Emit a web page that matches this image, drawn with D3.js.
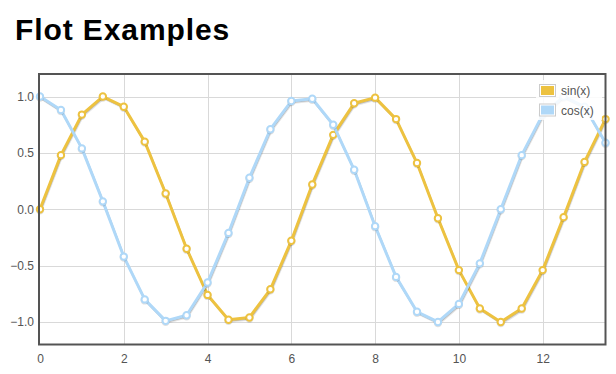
<!DOCTYPE html>
<html>
<head>
<meta charset="utf-8">
<title>Flot Examples</title>
<script src="https://cdn.jsdelivr.net/npm/d3@7"></script>
<style>
  body { margin: 0; background: #fff; font-family: "Liberation Sans", Arial, sans-serif; }
  svg { position: absolute; left: 0; top: 0; }
</style>
</head>
<body>
<script>
// values, one point every half unit
var xs = [0, 0.5, 1, 1.5, 2, 2.5, 3, 3.5, 4, 4.5, 5, 5.5, 6, 6.5,
          7, 7.5, 8, 8.5, 9, 9.5, 10, 10.5, 11, 11.5, 12, 12.5, 13, 13.5];
var sinValues = [0, 0.48, 0.84, 1.00, 0.91, 0.60, 0.14, -0.35, -0.76, -0.98, -0.96, -0.71, -0.28, 0.22,
                 0.66, 0.94, 0.99, 0.80, 0.41, -0.08, -0.54, -0.88, -1.00, -0.88, -0.54, -0.07, 0.42, 0.80];
var cosValues = [1.00, 0.88, 0.54, 0.07, -0.42, -0.80, -0.99, -0.94, -0.65, -0.21, 0.28, 0.71, 0.96, 0.98,
                 0.75, 0.35, -0.15, -0.60, -0.91, -1.00, -0.84, -0.48, 0.00, 0.48, 0.84, 1.00, 0.91, 0.59];
var seriesNames = ["sin(x)", "cos(x)"];
var xTicks = [0, 2, 4, 6, 8, 10, 12];
var yTicks = [-1.0, -0.5, 0.0, 0.5, 1.0];

var width = 616, height = 374;
// note: "top" is taken by window.top, so use plot* names
var plotLeft = 40, plotRight = 605.5, plotTop = 74, plotBottom = 344.5;
var colors = ["#edc240", "#afd8f8"];

var svg = d3.select("body").append("svg")
    .attr("width", width)
    .attr("height", height);

svg.append("text")
    .attr("x", 15).attr("y", 40)
    .attr("fill", "#000")
    .style("font-family", "'Liberation Sans', Arial, sans-serif")
    .style("font-size", "30px")
    .style("font-weight", "bold")
    .style("letter-spacing", "0.9px")
    .text("Flot Examples");

var x = d3.scaleLinear().domain([0, 13.5]).range([plotLeft, plotRight]);
var y = d3.scaleLinear().domain([-1.2, 1.2]).range([plotBottom, plotTop]);

// grid
var grid = svg.append("g").attr("stroke", "#d9d9d9").attr("stroke-width", 1);
grid.selectAll(".vx").data(xTicks.slice(1)).enter().append("line")
    .attr("x1", function(d) { return Math.round(x(d)) + 0.5; })
    .attr("x2", function(d) { return Math.round(x(d)) + 0.5; })
    .attr("y1", plotTop).attr("y2", plotBottom);
grid.selectAll(".hy").data(yTicks).enter().append("line")
    .attr("y1", function(d) { return Math.round(y(d)) + 0.5; })
    .attr("y2", function(d) { return Math.round(y(d)) + 0.5; })
    .attr("x1", plotLeft).attr("x2", plotRight);

// axes (labels only, flot style)
var xAxis = svg.append("g")
    .attr("transform", "translate(0," + (plotBottom + 2) + ")")
    .call(d3.axisBottom(x).tickValues(xTicks).tickSize(0).tickPadding(8).tickFormat(d3.format("d")));
var yAxis = svg.append("g")
    .attr("transform", "translate(" + (plotLeft - 2) + ",0)")
    .call(d3.axisLeft(y).tickValues(yTicks).tickSize(0).tickPadding(4).tickFormat(d3.format(".1f")));
[xAxis, yAxis].forEach(function(a) {
    a.select(".domain").remove();
    a.selectAll("text")
        .attr("fill", "#545454")
        .style("font-family", "'Liberation Sans', Arial, sans-serif")
        .style("font-size", "12px");
});

svg.append("clipPath").attr("id", "plotclip")
    .append("rect").attr("x", plotLeft - 6).attr("y", plotTop - 6)
    .attr("width", plotRight - plotLeft + 12).attr("height", plotBottom - plotTop + 12);

var plot = svg.append("g").attr("clip-path", "url(#plotclip)");

var line = d3.line()
    .x(function(d) { return x(d[0]); })
    .y(function(d) { return y(d[1]); });

var series = [sinValues, cosValues].map(function(vals) {
    return xs.map(function(v, i) { return [v, vals[i]]; });
});

series.forEach(function(data, k) {
    // shadow
    [[2, 0.1], [1, 0.2]].forEach(function(s) {
        plot.append("path").datum(data)
            .attr("transform", "translate(" + s[0] * 0.5 + "," + s[0] + ")")
            .attr("d", line)
            .attr("fill", "none")
            .attr("stroke", "#000")
            .attr("stroke-opacity", s[1])
            .attr("stroke-width", 2)
            .attr("stroke-linejoin", "round");
    });
    plot.append("path").datum(data)
        .attr("d", line)
        .attr("fill", "none")
        .attr("stroke", colors[k])
        .attr("stroke-width", 3)
        .attr("stroke-linejoin", "round");
    plot.selectAll(".pt" + k).data(data).enter().append("circle")
        .attr("cx", function(d) { return x(d[0]); })
        .attr("cy", function(d) { return y(d[1]) + 1; })
        .attr("r", 3.2)
        .attr("fill", "none")
        .attr("stroke", "#000")
        .attr("stroke-opacity", 0.12)
        .attr("stroke-width", 2);
    plot.selectAll(".p" + k).data(data).enter().append("circle")
        .attr("cx", function(d) { return x(d[0]); })
        .attr("cy", function(d) { return y(d[1]); })
        .attr("r", 3.2)
        .attr("fill", "#fff")
        .attr("stroke", colors[k])
        .attr("stroke-width", 2);
});

// border
svg.append("rect")
    .attr("x", plotLeft - 1).attr("y", plotTop)
    .attr("width", plotRight - plotLeft + 1).attr("height", plotBottom - plotTop)
    .attr("fill", "none")
    .attr("stroke", "#545454")
    .attr("stroke-width", 2);

// legend
var legend = svg.append("g");
legend.append("rect")
    .attr("x", 536).attr("y", 80)
    .attr("width", 66).attr("height", 40)
    .attr("fill", "#fff").attr("fill-opacity", 0.85);
var item = legend.selectAll(".item").data(seriesNames).enter().append("g")
    .attr("transform", function(d, i) { return "translate(539," + (84 + i * 19.5) + ")"; });
item.append("rect")
    .attr("x", 0.5).attr("y", 0.5).attr("width", 16).attr("height", 12)
    .attr("fill", "#fff").attr("stroke", "#ccc");
item.append("rect")
    .attr("x", 2).attr("y", 2).attr("width", 13).attr("height", 9)
    .attr("fill", function(d, i) { return colors[i]; });
item.append("text")
    .attr("x", 22).attr("y", 11)
    .attr("fill", "#545454")
    .style("font-family", "'Liberation Sans', Arial, sans-serif")
    .style("font-size", "12px")
    .text(function(d) { return d; });
</script>
</body>
</html>
